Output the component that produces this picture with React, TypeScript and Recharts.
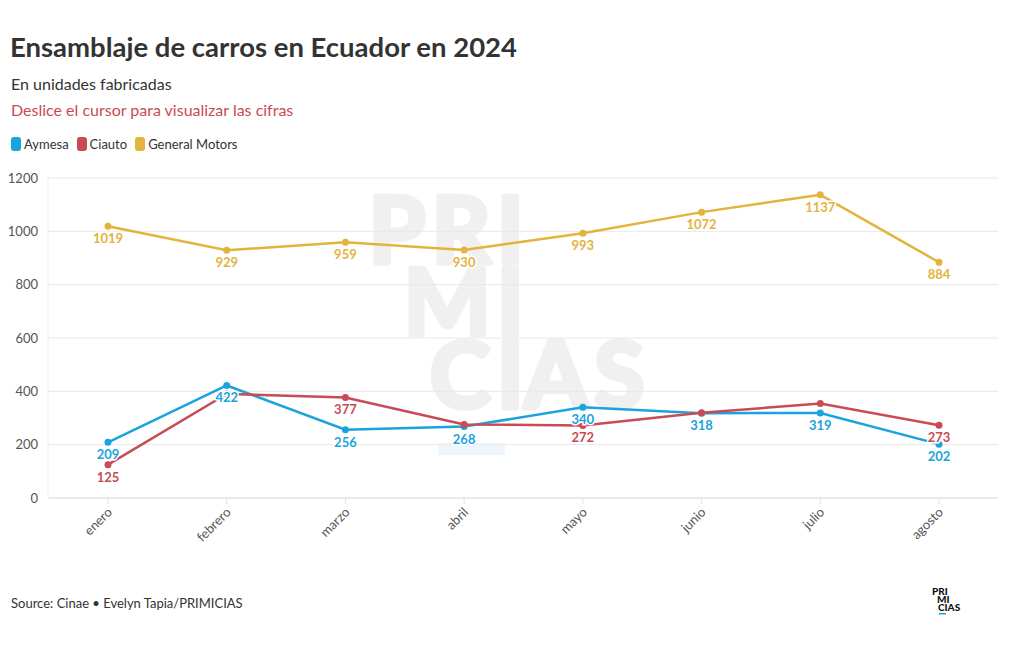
import { LineChart, Line, XAxis, YAxis, CartesianGrid, LabelList } from "recharts"

const months = ["enero", "febrero", "marzo", "abril", "mayo", "junio", "julio", "agosto"]
const aymesa = [209, 422, 256, 268, 340, 318, 319, 202]
const ciauto = [125, 390, 377, 276, 272, 320, 354, 273]
const generalMotors = [1019, 929, 959, 930, 993, 1072, 1137, 884]
const yTicks = [0, 200, 400, 600, 800, 1000, 1200]
// ciauto labels that the original hides behind other labels
const ciautoHidden = [1, 3, 5, 6]

const series = [
  { key: "Aymesa", color: "#1aa3dc", hidden: [] as number[] },
  { key: "Ciauto", color: "#c94b53", hidden: ciautoHidden },
  { key: "General Motors", color: "#e3b33c", hidden: [] as number[] },
]

const data = months.map((month, i) => ({
  month,
  Aymesa: aymesa[i],
  Ciauto: ciauto[i],
  "General Motors": generalMotors[i],
}))

const FONT = "Lato, 'Open Sans', sans-serif"

function pointLabel(color: string, hidden: number[]) {
  return (props: any) => {
    const { x, y, value, index } = props
    if (hidden.includes(index)) return null
    return (
      <text
        x={x}
        y={y + 17}
        textAnchor="middle"
        fill={color}
        stroke="#fff"
        strokeWidth={3}
        paintOrder="stroke"
        fontSize={13}
        fontWeight={700}
        fontFamily={FONT}
      >
        {value}
      </text>
    )
  }
}

function MonthTick({ x, y, payload }: any) {
  const ax = x + 5
  const ay = y + 7
  return (
    <text
      x={ax}
      y={ay}
      transform={`rotate(-45 ${ax} ${ay})`}
      textAnchor="end"
      fill="#555"
      fontSize={13}
      fontFamily={FONT}
    >
      {payload.value}
    </text>
  )
}

export default function App() {
  return (
    <div style={{ position: "absolute", left: 0, top: 0, width: 1020, height: 650, background: "#fff", fontFamily: FONT, color: "#333" }}>
      <div style={{ position: "absolute", left: 10, top: 33, fontSize: 27.5, fontWeight: 700, lineHeight: 1, whiteSpace: "nowrap" }}>
        Ensamblaje de carros en Ecuador en 2024
      </div>
      <div style={{ position: "absolute", left: 11, top: 76, fontSize: 16, lineHeight: 1 }}>En unidades fabricadas</div>
      <div style={{ position: "absolute", left: 11, top: 102, fontSize: 16, lineHeight: 1, color: "#c94b53" }}>
        Deslice el cursor para visualizar las cifras
      </div>
      <div style={{ position: "absolute", left: 11, top: 137, display: "flex", gap: 8, fontSize: 13, lineHeight: 1 }}>
        {series.map((s) => (
          <div key={s.key} style={{ display: "flex", alignItems: "center", gap: 3 }}>
            <span style={{ width: 10, height: 14, borderRadius: 3, background: s.color, display: "inline-block" }} />
            <span>{s.key}</span>
          </div>
        ))}
      </div>

      {/* watermark, lines aligned on the "I" column */}
      <svg width={1020} height={650} style={{ position: "absolute", left: 0, top: 0 }}>
        <g
          fill="#f0f0f0"
          stroke="#f0f0f0"
          strokeWidth={5}
          strokeLinejoin="round"
          style={{ fontSize: 92, fontWeight: 700, fontFamily: FONT, letterSpacing: 6 }}
        >
          <text x={530} y={263} textAnchor="end">PRI</text>
          <text x={530} y={335} textAnchor="end">MI</text>
          <text x={530} y={408} textAnchor="end">CI</text>
          <text x={524} y={408}>AS</text>
        </g>
        <rect x={438} y={443} width={67} height={12} fill="#eef5fc" />
      </svg>

      <div style={{ position: "absolute", left: 0, top: 0 }}>
        <LineChart width={1020} height={650} data={data} margin={{ top: 178, right: 22, bottom: 102, left: 0 }}>
          <CartesianGrid vertical={false} stroke="#e8e8e8" />
          <XAxis
            dataKey="month"
            padding={{ left: 60, right: 59 }}
            height={50}
            stroke="#e3e3e3"
            tickSize={6}
            tickMargin={2}
            tick={<MonthTick />}
            interval={0}
          />
          <YAxis
            width={48}
            domain={[0, 1200]}
            ticks={yTicks}
            stroke="#ececec"
            tickLine={false}
            tickSize={0}
            tickMargin={10}
            tick={{ fill: "#555", fontSize: 13, fontFamily: FONT }}
          />
          {series.map((s) => (
            <Line
              key={s.key}
              dataKey={s.key}
              stroke={s.color}
              strokeWidth={2.5}
              dot={{ r: 3.5, fill: s.color, stroke: s.color, strokeWidth: 0 }}
              isAnimationActive={false}
            />
          ))}
          {series.map((s) => (
            <Line
              key={s.key + "-labels"}
              dataKey={s.key}
              stroke="none"
              dot={false}
              activeDot={false}
              legendType="none"
              isAnimationActive={false}
            >
              <LabelList dataKey={s.key} content={pointLabel(s.color, s.hidden)} />
            </Line>
          ))}
        </LineChart>
      </div>

      <div style={{ position: "absolute", left: 11, top: 597, fontSize: 13, lineHeight: 1 }}>
        Source: Cinae • Evelyn Tapia/PRIMICIAS
      </div>
      <svg width={40} height={32} style={{ position: "absolute", left: 928, top: 584 }}>
        <g fill="#111" style={{ fontSize: 10, fontWeight: 900, fontFamily: FONT }}>
          <text x={4} y={11}>PRI</text>
          <text x={9} y={19}>MI</text>
          <text x={10} y={27}>CIAS</text>
        </g>
        <rect x={11} y={29} width={7} height={1.5} fill="#1aa3dc" />
      </svg>
    </div>
  )
}
